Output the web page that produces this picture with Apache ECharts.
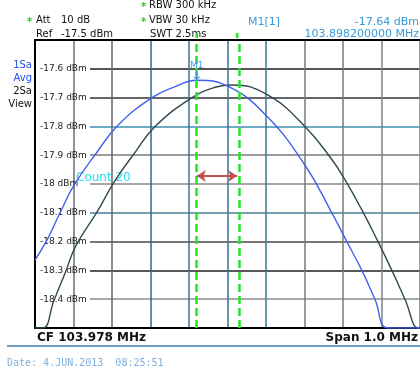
<!DOCTYPE html>
<html><head><meta charset="utf-8">
<script src="https://cdn.jsdelivr.net/npm/echarts@6/dist/echarts.min.js"></script>
<style>html,body{margin:0;padding:0;background:#fff}#chart{width:420px;height:373px}</style>
</head><body><div id="chart"></div>
<script>
// Analyzer settings
const centerFreqMHz = 103.978;
const spanMHz = 1.0;
const refLevelDbm = -17.5;
const bottomLevelDbm = -18.5;

// Level axis ticks and their labels
const yTickValues = [-18.4, -18.3, -18.2, -18.1, -18.0, -17.9, -17.8, -17.7, -17.6];
const yTickLabels = ['-18.4 dBm', '-18.3 dBm', '-18.2 dBm', '-18.1 dBm', '-18 dBm', '-17.9 dBm', '-17.8 dBm', '-17.7 dBm', '-17.6 dBm'];

// Trace 1 (1Sa, Avg)
const avgFreqMHz = [103.478, 103.509, 103.543, 103.579, 103.636, 103.694, 103.782, 103.842, 103.8982, 103.984, 104.081, 104.179, 104.249, 104.288, 104.327, 104.361, 104.395, 104.478];
const avgLevelDbm = [-18.264, -18.195, -18.10, -18.005, -17.895, -17.795, -17.70, -17.662, -17.64, -17.664, -17.766, -17.934, -18.10, -18.20, -18.30, -18.40, -18.50, -18.50];

// Trace 2 (2Sa, View)
const viewFreqMHz = [103.478, 103.499, 103.527, 103.556, 103.584, 103.640, 103.685, 103.738, 103.790, 103.886, 103.946, 103.990, 104.081, 104.179, 104.249, 104.283, 104.327, 104.369, 104.405, 104.439, 104.473, 104.478];
const viewLevelDbm = [-18.50, -18.50, -18.405, -18.31, -18.215, -18.095, -17.99, -17.89, -17.80, -17.70, -17.664, -17.656, -17.69, -17.80, -17.915, -17.985, -18.09, -18.20, -18.30, -18.40, -18.50, -18.50];

// Markers
const markerFreqMHz = [103.8982, 104.003];
const markerLevelDbm = -17.64;
const arrowLevelDbm = -17.972;

// Grid line colours, from the lowest / leftmost line upward
const ySplitColors = ['#000', '#8c8c8c', '#222', '#4a4a4a', '#4a7f96', '#8a8a8a', '#7a7a7a', '#3c8fb0', '#333', '#1e1e1e', '#000'];
const xSplitColors = ['#000', '#6e6e6e', '#666', '#2f6884', '#3b7590', '#3b7590', '#3a7896', '#7a7a7a', '#7a7a7a', '#808080', '#808080'];

const toOffset = f => f - centerFreqMHz;
const pairs = (fs, ls) => fs.map((f, i) => [toOffset(f), ls[i]]);

const chart = echarts.init(document.getElementById('chart'), null, { renderer: 'canvas' });
const FONT = 'DejaVu Sans';

chart.setOption({
  animation: false,
  backgroundColor: '#fff',
  grid: [
    { left: 35, top: 40, right: 0, bottom: 45 },
    // horizontal rulings begin to the right of the level labels
    { left: 90, top: 40, right: 0, bottom: 45 }
  ],
  xAxis: [
    {
      type: 'value', gridIndex: 0,
      min: -spanMHz / 2, max: spanMHz / 2, interval: 0.1,
      axisLine: { show: true, onZero: false, lineStyle: { color: '#000', width: 2 } },
      axisTick: { show: false },
      axisLabel: { show: false },
      splitLine: { show: true, lineStyle: { color: xSplitColors, width: 1.5 } }
    },
    {
      type: 'value', gridIndex: 0, position: 'top',
      min: -spanMHz / 2, max: spanMHz / 2, interval: 0.1,
      axisLine: { show: true, onZero: false, lineStyle: { color: '#000', width: 2 } },
      axisTick: { show: false }, axisLabel: { show: false }, splitLine: { show: false }
    },
    {
      type: 'value', gridIndex: 1, show: false, min: 0, max: 1
    }
  ],
  yAxis: [
    {
      type: 'value', gridIndex: 0,
      min: bottomLevelDbm, max: refLevelDbm, interval: 0.1,
      axisLine: { show: true, onZero: false, lineStyle: { color: '#000', width: 2 } },
      axisTick: { show: false },
      axisLabel: {
        inside: true, margin: 5,
        fontFamily: FONT, fontSize: 9, color: '#222',
        formatter: v => {
          const i = yTickValues.findIndex(t => Math.abs(t - v) < 1e-6);
          return i < 0 ? '' : yTickLabels[i];
        }
      },
      splitLine: { show: false }
    },
    {
      type: 'value', gridIndex: 1,
      min: bottomLevelDbm, max: refLevelDbm, interval: 0.1,
      axisLine: { show: false }, axisTick: { show: false }, axisLabel: { show: false },
      splitLine: { show: true, lineStyle: { color: ySplitColors, width: 1.5 } }
    }
  ],
  series: [
    {
      name: 'rulings', type: 'line', xAxisIndex: 2, yAxisIndex: 1, data: [], silent: true
    },
    {
      name: '2Sa View', type: 'line', data: pairs(viewFreqMHz, viewLevelDbm),
      showSymbol: false, smooth: 0.45,
      lineStyle: { color: '#2f4a55', width: 1.4 }, z: 3, silent: true
    },
    {
      name: '1Sa Avg', type: 'line', data: pairs(avgFreqMHz, avgLevelDbm),
      showSymbol: false, smooth: 0.45,
      lineStyle: { color: '#4361ee', width: 1.4 }, z: 4, silent: true,
      markPoint: {
        silent: true,
        symbol: 'path://M3,0 L3,6 L0,6 L4,10 L8,6 L5,6 L5,0 Z',
        symbolSize: [7, 9], symbolOffset: [0, '-50%'],
        itemStyle: { color: '#3aa0dc' },
        label: { show: true, position: 'top', distance: 1, formatter: 'M1', color: '#3aa0dc', fontFamily: FONT, fontSize: 9 },
        data: [{ coord: [toOffset(markerFreqMHz[0]), markerLevelDbm] }]
      }
    },
    {
      name: 'markers', type: 'line', data: [], z: 5, silent: true,
      markLine: {
        silent: true, symbol: 'none', animation: false,
        label: { show: false },
        lineStyle: { color: '#22e622', type: [8, 4], width: 2.5 },
        data: markerFreqMHz.map(f => ({ xAxis: toOffset(f) }))
      }
    },
    {
      name: 'delta', type: 'line', data: [], z: 6, silent: true,
      markLine: {
        silent: true, symbol: ['arrow', 'arrow'], symbolSize: [9, 9], animation: false,
        label: { show: false },
        lineStyle: { color: '#c0504d', type: 'solid', width: 2 },
        data: [[
          { coord: [toOffset(markerFreqMHz[0]), arrowLevelDbm] },
          { coord: [toOffset(markerFreqMHz[1]), arrowLevelDbm] }
        ]]
      }
    }
  ]
});

// Header, side panel and footer texts
const txt = (x, y, text, opt = {}) => ({
  type: 'text', x, y, silent: true,
  style: Object.assign({
    text, fill: '#111', font: `10px "${FONT}"`,
    textAlign: 'left', textVerticalAlign: 'middle'
  }, opt)
});
const star = (x, y) => txt(x, y, '*', { fill: '#22cc22', font: `bold 10px "${FONT}"` });

const elements = [
  star(27, 22),
  txt(36, 20, 'Att'),
  txt(61, 20, '10 dB'),
  txt(36, 34, 'Ref'),
  txt(61, 34, refLevelDbm.toFixed(1) + ' dBm'),
  star(141, 7),
  txt(149, 5, 'RBW 300 kHz'),
  star(141, 22),
  txt(149, 20, 'VBW 30 kHz'),
  txt(150, 34, 'SWT 2.5ms'),
  txt(248, 22, 'M1[1]', { fill: '#3a9ad9', font: `11px "${FONT}"` }),
  txt(419, 22, markerLevelDbm.toFixed(2) + ' dBm', { fill: '#3a9ad9', font: `11px "${FONT}"`, textAlign: 'right' }),
  txt(419, 34, markerFreqMHz[0].toFixed(9) + ' MHz', { fill: '#3a9ad9', font: `11px "${FONT}"`, textAlign: 'right' }),
  txt(32, 65, '1Sa', { fill: '#2250ee', textAlign: 'right' }),
  txt(32, 78, 'Avg', { fill: '#2250ee', textAlign: 'right' }),
  txt(32, 91, '2Sa', { textAlign: 'right' }),
  txt(32, 104, 'View', { textAlign: 'right' }),
  txt(76, 178, 'Count 20', { fill: '#1fdcef', font: `12px "${FONT}"` }),
  txt(37, 338, 'CF ' + centerFreqMHz.toFixed(3) + ' MHz', { font: `bold 12px "${FONT}"` }),
  txt(418, 338, 'Span ' + spanMHz.toFixed(1) + ' MHz', { font: `bold 12px "${FONT}"`, textAlign: 'right' }),
  { type: 'line', silent: true, shape: { x1: 7, y1: 346, x2: 420, y2: 346 }, style: { stroke: '#6b9cc4', lineWidth: 2 } },
  txt(7, 363, 'Date: 4.JUN.2013  08:25:51', { fill: '#7fb0dd', font: '10px "DejaVu Sans Mono"' })
];

// Marker lines continue a little above the top edge of the diagram
markerFreqMHz.forEach(f => {
  const p = chart.convertToPixel({ gridIndex: 0 }, [toOffset(f), refLevelDbm]);
  elements.push({
    type: 'line', silent: true,
    shape: { x1: p[0], y1: p[1] - 7, x2: p[0], y2: p[1] },
    style: { stroke: '#22e622', lineWidth: 2.5, lineDash: [5, 3] }
  });
});

chart.setOption({ graphic: { elements } });
</script>
</body></html>
